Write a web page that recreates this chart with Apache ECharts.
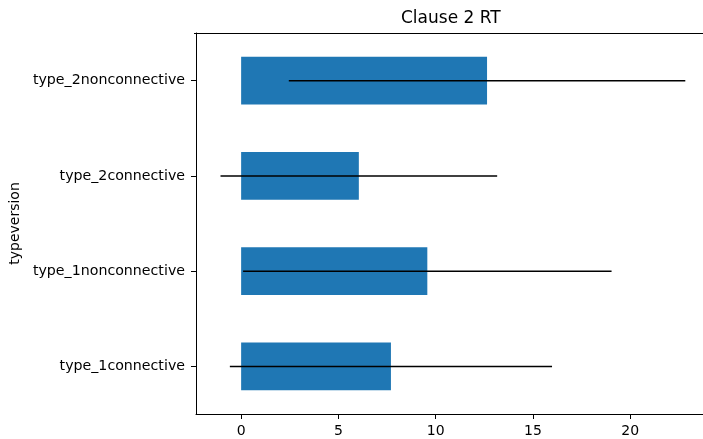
<!DOCTYPE html>
<html>
<head>
<meta charset="utf-8">
<script src="https://cdn.jsdelivr.net/npm/echarts@6/dist/echarts.min.js"></script>
<style>html,body{margin:0;padding:0;background:#fff;}#c{width:703px;height:439px;}</style>
</head>
<body>
<div id="c"></div>
<script>
var categories = ['type_1connective', 'type_1nonconnective', 'type_2connective', 'type_2nonconnective'];
var means = [7.70, 9.57, 6.05, 12.64];
var errors = [8.28, 9.47, 7.11, 10.19];
var xTicks = [0, 5, 10, 15, 20];

var FONT = 'DejaVu Sans';
var chart = echarts.init(document.getElementById('c'), null, {renderer: 'canvas'});
var errData = means.map(function (m, i) { return [i, m - errors[i], m + errors[i]]; });
var X_MIN = -2.32, X_MAX = 23.74;
var GRID_LEFT = 194, GRID_TOP = 33;

chart.setOption({
  animation: false,
  title: {
    text: 'Clause 2 RT', left: 401, top: 10, padding: 0,
    textStyle: {fontFamily: FONT, fontSize: 17, fontWeight: 'normal', color: '#000'}
  },
  grid: {left: GRID_LEFT, top: GRID_TOP, right: 0, bottom: 25, show: false},
  graphic: [{
    type: 'rect', silent: true, z: 100,
    shape: {x: GRID_LEFT, y: GRID_TOP, width: 703 - GRID_LEFT, height: 1},
    style: {fill: '#000'}
  }],
  xAxis: {
    type: 'value', min: X_MIN, max: X_MAX,
    axisLine: {show: true, onZero: false, lineStyle: {color: '#000', width: 1}},
    splitLine: {show: false},
    axisLabel: {
      fontFamily: FONT, fontSize: 14, color: '#000', margin: 10,
      customValues: xTicks
    },
    axisTick: {show: true, length: 5, lineStyle: {color: '#000'}, customValues: xTicks}
  },
  yAxis: {
    type: 'category', data: categories, boundaryGap: true,
    name: 'typeversion', nameLocation: 'middle', nameGap: 173, nameRotate: 90,
    nameTextStyle: {fontFamily: FONT, fontSize: 14, color: '#000'},
    axisLine: {show: true, onZero: false, lineStyle: {color: '#000', width: 1}},
    axisTick: {show: true, length: 5, alignWithLabel: true, lineStyle: {color: '#000'}},
    axisLabel: {fontFamily: FONT, fontSize: 14.2, color: '#000', margin: 11},
    splitLine: {show: false}
  },
  series: [
    {
      type: 'bar', data: means, barWidth: '50%',
      itemStyle: {color: '#1f77b4'}
    },
    {
      type: 'custom', data: errData, z: 10,
      encode: {x: [1, 2], y: 0},
      renderItem: function (params, api) {
        var cat = api.value(0);
        var a = api.coord([api.value(1), cat]);
        var b = api.coord([api.value(2), cat]);
        return {
          type: 'line',
          shape: {x1: a[0], y1: a[1], x2: b[0], y2: b[1]},
          style: {stroke: '#000', lineWidth: 1.5}
        };
      }
    }
  ]
});
</script>
</body>
</html>
